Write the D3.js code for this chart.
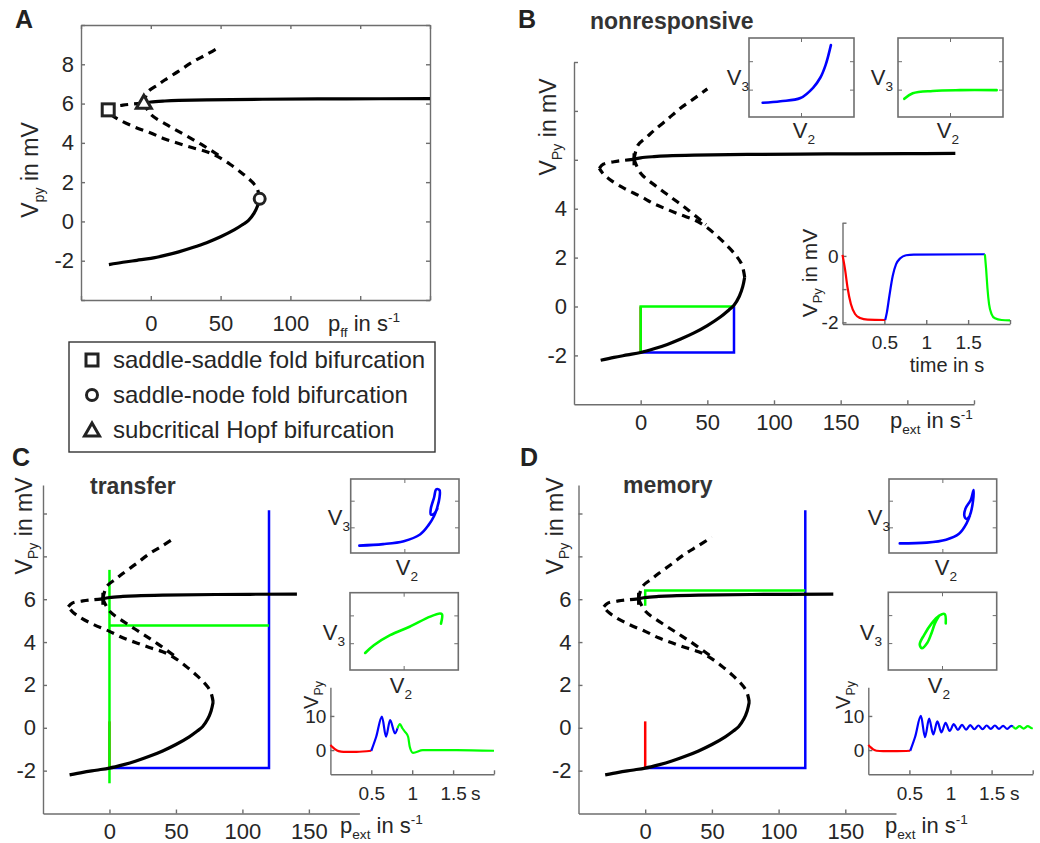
<!DOCTYPE html>
<html>
<head>
<meta charset="utf-8">
<title>Bifurcation diagrams</title>
<script src="https://d3js.org/d3.v7.min.js"></script>
<style>
  body { margin: 0; background: #fff; }
</style>
</head>
<body>
<div id="chart"></div>
<script>
// ---- bifurcation branches, [p in 1/s, V in mV] ----
const lowerBranch = [[-30,-2.2],[-20,-2.08],[-10,-1.98],[0,-1.88],[10,-1.73],[20,-1.55],[30,-1.33],
  [40,-1.08],[50,-0.78],[60,-0.42],[66,-0.15],[70,0.05],[74,0.42],[76.5,0.8],[78,1.2]];
const middleBranch = [[78,1.2],[76,1.7],[72,2.05],[66,2.42],[57,2.9],[48,3.3],[40,3.55],[30,3.75],
  [20,3.97],[10,4.2],[0,4.5],[-12,4.82],[-22,5.15],[-28,5.42],[-31,5.65]];
const upperUnstable = [[-31,5.65],[-28,5.82],[-20,5.92],[-12,5.98],[-5,6.02]];
const periodicMax = [[-5,6.02],[-2,6.6],[5,6.95],[10,7.2],[20,7.65],[30,8.12],[40,8.5],[50,8.9]];
const periodicMin = [[-5,6.02],[0,5.45],[12,4.9],[24,4.42],[36,3.93],[49,3.35]];
const upperStable = [[-5,6.02],[0,6.08],[10,6.13],[20,6.16],[40,6.19],[80,6.22],[140,6.24],[200,6.25],[236,6.26]];

const saddleSaddle = [-30.5, 5.68];
const hopf = [-5, 6.02];
const saddleNode = [78, 1.15];

const legendLabels = ["saddle-saddle fold bifurcation", "saddle-node fold bifurcation", "subcritical Hopf bifurcation"];

// ---- input projections on the bifurcation diagrams ----
const bRedP = [[0,0],[0,-1.88]];
const bBlueP = [[0,-1.88],[70,-1.88],[70,0]];
const bGreenP = [[70,0],[0,0],[0,-1.88]];
const cRedP = [[0,0.3],[0,-1.88]];
const cBlueP = [[0,-1.88],[120,-1.88],[120,10.15]];
const cGreenP = [[120,4.77],[0,4.77]];
const cGreenV = [[0,7.37],[0,-2.59]];
const dRedP = [[0,0.3],[0,-1.88]];
const dBlueP = [[0,-1.88],[120,-1.88],[120,10.15]];
const dGreenP = [[120,6.41],[0,6.41],[0,5.69]];

// ---- phase portraits (V2, V3), normalised units ----
const bPhaseBlue = [[0.13,0.18],[0.3,0.2],[0.49,0.24],[0.61,0.37],[0.68,0.5],[0.73,0.66],[0.78,0.91]];
const bPhaseGreen = [[0.06,0.23],[0.14,0.3],[0.33,0.33],[0.59,0.34],[0.94,0.34]];
const cPhaseBlue = [[0.08,0.1],[0.3,0.12],[0.49,0.16],[0.64,0.25],[0.72,0.38],[0.77,0.5],[0.8,0.62],
  [0.82,0.75],[0.82,0.85],[0.79,0.86],[0.77,0.75],[0.74,0.6],[0.74,0.52],[0.77,0.53],[0.8,0.6]];
const cPhaseGreen = [[0.14,0.22],[0.22,0.32],[0.37,0.45],[0.55,0.56],[0.74,0.69],[0.83,0.73],[0.85,0.72],[0.84,0.6]];
const dPhaseBlue = [[0.1,0.13],[0.35,0.14],[0.53,0.18],[0.65,0.26],[0.72,0.4],[0.76,0.55],[0.78,0.7],
  [0.785,0.85],[0.76,0.72],[0.71,0.6],[0.7,0.5],[0.72,0.46],[0.75,0.5]];
const dPhaseGreen = [[0.53,0.6],[0.52,0.72],[0.47,0.7],[0.4,0.6],[0.33,0.45],[0.29,0.33],[0.31,0.28],
  [0.36,0.35],[0.4,0.48],[0.43,0.6],[0.47,0.7]];

// ---- time courses, [t in s, V_Py in mV] ----
const bRedT = [[0,0.03],[0.03,-0.4],[0.06,-0.95],[0.1,-1.45],[0.15,-1.75],[0.21,-1.87],[0.3,-1.92],[0.51,-1.93]];
const bBlueT = [[0.51,-1.93],[0.53,-1.7],[0.56,-1.2],[0.6,-0.6],[0.64,-0.25],[0.69,-0.07],[0.76,0.02],[0.85,0.04],[1.7,0.05]];
const bGreenT = [[1.7,0.05],[1.715,-0.4],[1.73,-0.95],[1.75,-1.45],[1.78,-1.75],[1.82,-1.88],[1.9,-1.93],[2.0,-1.94]];
const cRedT = [[0,1.5],[0.03,0.8],[0.06,0.2],[0.1,-0.3],[0.16,-0.5],[0.32,-0.5],[0.5,-0.2]];
const cBlueT = [[0.5,-0.2],[0.56,3.9],[0.63,9.8],[0.68,3.9],[0.73,8.8],[0.79,4.9],[0.82,6.4]];
const cGreenT = [[0.82,6.4],[0.85,7.6],[0.88,6.4],[0.91,5.4],[0.95,3.9],[0.97,1.0],[1.01,-0.8],[1.13,0],[1.54,0],[2.0,-0.2]];
const dRedT = [[0,1.5],[0.03,0.8],[0.06,0.2],[0.1,-0.2],[0.18,-0.3],[0.35,-0.3],[0.51,-0.2]];
const dBlueT = [[0.51,-0.2],[0.57,3.9],[0.64,10],[0.69,3.8],[0.74,9.2],[0.79,4.6],[0.84,8.4],[0.89,5.2],
  [0.94,8.0],[0.99,5.6],[1.04,7.6],[1.09,5.9],[1.14,7.4],[1.19,6.0],[1.24,7.3],[1.29,6.1],[1.34,7.2],
  [1.39,6.1],[1.44,7.2],[1.49,6.2],[1.54,7.2],[1.59,6.2],[1.64,7.1],[1.69,6.2],[1.74,7.1],[1.76,6.9]];
const dGreenT = [[1.76,6.9],[1.79,6.3],[1.84,7.0],[1.89,6.3],[1.94,7.0],[1.99,6.4],[2.0,6.45]];

const FONT = "'Liberation Sans', Arial, Helvetica, sans-serif";
const INK = "#262626";
const AXC = "#6e6e6e";
const RED = "#ff0000", BLUE = "#0000ff", GREEN = "#00ff00";

const svg = d3.select("#chart").append("svg")
    .attr("width", 1040).attr("height", 843)
    .style("background", "#fff")
    .attr("font-family", FONT);

function styleAxis(sel, fs) {
    sel.attr("font-family", FONT).attr("font-size", fs).attr("color", INK);
    sel.selectAll("path.domain, line").attr("stroke", AXC).attr("stroke-width", 1.4);
}

const labelOnly = arr => d => arr.includes(d) ? String(d) : "";
const noLabel = () => "";

// text with sub / superscript parts: parts = [[text, "n"|"sub"|"sup"], ...]
function richText(g, x, y, parts, fs, opts) {
    opts = opts || {};
    const t = g.append("text").attr("font-size", fs).attr("fill", INK)
        .attr("text-anchor", opts.anchor || "start");
    if (opts.rotate) t.attr("transform", `translate(${x},${y}) rotate(-90)`);
    else t.attr("x", x).attr("y", y);
    let shift = 0;
    parts.forEach(p => {
        const target = p[1] === "sub" ? fs * 0.26 : p[1] === "sup" ? -fs * 0.42 : 0;
        t.append("tspan").text(p[0])
            .attr("dy", target - shift)
            .attr("font-size", p[1] === "n" ? fs : fs * 0.62);
        shift = target;
    });
    return t;
}

function mainPanel(o) {
    const x = d3.scaleLinear().domain(o.xDomain).range(o.xRange);
    const y = d3.scaleLinear().domain(o.yDomain).range(o.yRange);
    const g = svg.append("g");

    g.append("g").attr("transform", `translate(0,${o.yRange[0]})`)
        .call(d3.axisBottom(x).tickValues(o.xTicks).tickFormat(labelOnly(o.xLabels))
            .tickSizeInner(-4).tickSizeOuter(0).tickPadding(o.xPad))
        .call(styleAxis, 22);
    g.append("g").attr("transform", `translate(${o.xRange[0]},0)`)
        .call(d3.axisLeft(y).tickValues(o.yTicks).tickFormat(labelOnly(o.yLabels))
            .tickSizeInner(-4).tickSizeOuter(0).tickPadding(7))
        .call(styleAxis, 22);
    if (o.box) {
        g.append("g").attr("transform", `translate(0,${o.yRange[1]})`)
            .call(d3.axisTop(x).tickValues(o.xTicks).tickFormat(noLabel).tickSizeInner(-4).tickSizeOuter(0))
            .call(styleAxis, 22);
        g.append("g").attr("transform", `translate(${o.xRange[1]},0)`)
            .call(d3.axisRight(y).tickValues(o.yTicks).tickFormat(noLabel).tickSizeInner(-4).tickSizeOuter(0))
            .call(styleAxis, 22);
    }

    // input projections (straight segments)
    const seg = d3.line().x(d => x(d[0])).y(d => y(d[1]));
    (o.inputs || []).forEach(p => {
        g.append("path").attr("d", seg(p.data)).attr("fill", "none")
            .attr("stroke", p.color).attr("stroke-width", 2.5);
    });

    // branches
    const curve = d3.line().x(d => x(d[0])).y(d => y(d[1])).curve(d3.curveCatmullRom.alpha(0.5));
    const upper = upperStable.filter(d => d[0] <= o.upperEnd);
    upper.push([o.upperEnd, upperStable[upper.length - 1][1]]);
    g.append("path").attr("d", curve(lowerBranch)).attr("fill", "none")
        .attr("stroke", "#000").attr("stroke-width", 3.2);
    g.append("path").attr("d", curve(upper)).attr("fill", "none")
        .attr("stroke", "#000").attr("stroke-width", 3.2);
    [middleBranch, upperUnstable, periodicMax, periodicMin].forEach(b => {
        g.append("path").attr("d", curve(b)).attr("fill", "none")
            .attr("stroke", "#000").attr("stroke-width", 3.2)
            .attr("stroke-dasharray", "8,6");
    });

    if (o.symbols) {
        drawSquare(g, x(saddleSaddle[0]), y(saddleSaddle[1]));
        drawCircle(g, x(saddleNode[0]), y(saddleNode[1]));
        drawTriangle(g, x(hopf[0]), y(hopf[1]));
    } else {
        g.append("line")
            .attr("x1", x(hopf[0])).attr("x2", x(hopf[0]))
            .attr("y1", y(hopf[1]) - 6).attr("y2", y(hopf[1]) + 6)
            .attr("stroke", "#000").attr("stroke-width", 3);
    }
    return { x, y, g };
}

function drawSquare(g, cx, cy) {
    g.append("rect").attr("x", cx - 6).attr("y", cy - 6).attr("width", 12).attr("height", 12)
        .attr("fill", "#fff").attr("stroke", "#222").attr("stroke-width", 3);
}
function drawCircle(g, cx, cy) {
    g.append("circle").attr("cx", cx).attr("cy", cy).attr("r", 5.5)
        .attr("fill", "#fff").attr("stroke", "#222").attr("stroke-width", 3);
}
function drawTriangle(g, cx, cy) {
    g.append("path").attr("d", `M${cx},${cy - 8}L${cx + 7.5},${cy + 5}L${cx - 7.5},${cy + 5}Z`)
        .attr("fill", "#fff").attr("stroke", "#222").attr("stroke-width", 3);
}

function phaseInset(o) {
    const x = d3.scaleLinear().domain([0, 1]).range([o.x0, o.x1]);
    const y = d3.scaleLinear().domain([0, 1]).range([o.y1, o.y0]);
    const g = svg.append("g");
    g.append("rect").attr("x", o.x0).attr("y", o.y0)
        .attr("width", o.x1 - o.x0).attr("height", o.y1 - o.y0)
        .attr("fill", "#fff").attr("stroke", AXC).attr("stroke-width", 1.6);
    [0.5].forEach(u => {
        g.append("line").attr("x1", x(u)).attr("x2", x(u)).attr("y1", o.y1).attr("y2", o.y1 - 4).attr("stroke", AXC);
        g.append("line").attr("x1", x(u)).attr("x2", x(u)).attr("y1", o.y0).attr("y2", o.y0 + 4).attr("stroke", AXC);
    });
    [0.34, 0.7].forEach(v => {
        g.append("line").attr("x1", o.x0).attr("x2", o.x0 + 4).attr("y1", y(v)).attr("y2", y(v)).attr("stroke", AXC);
        g.append("line").attr("x1", o.x1).attr("x2", o.x1 - 4).attr("y1", y(v)).attr("y2", y(v)).attr("stroke", AXC);
    });
    g.append("path")
        .attr("d", d3.line().x(d => x(d[0])).y(d => y(d[1])).curve(d3.curveCatmullRom.alpha(0.5))(o.data))
        .attr("fill", "none").attr("stroke", o.color).attr("stroke-width", 2.6)
        .attr("stroke-linecap", "round").attr("stroke-linejoin", "round");
    richText(g, o.v3[0], o.v3[1], [["V", "n"], ["3", "sub"]], 22, { anchor: "end" });
    richText(g, o.v2[0], o.v2[1], [["V", "n"], ["2", "sub"]], 22, { anchor: "middle" });
}

function timeInset(o) {
    const x = d3.scaleLinear().domain([0, 2]).range(o.xRange);
    const y = d3.scaleLinear().domain(o.yDomain).range(o.yRange);
    const g = svg.append("g");
    g.append("g").attr("transform", `translate(0,${o.yRange[0]})`)
        .call(d3.axisBottom(x).tickValues([0.5, 1, 1.5, 2]).tickFormat(labelOnly([0.5, 1, 1.5]))
            .tickSizeInner(-4).tickSizeOuter(0).tickPadding(o.xPad))
        .call(styleAxis, 19);
    g.append("g").attr("transform", `translate(${o.xRange[0]},0)`)
        .call(d3.axisLeft(y).tickValues(o.yTicks).tickFormat(labelOnly(o.yLabels))
            .tickSizeInner(-4).tickSizeOuter(0).tickPadding(4))
        .call(styleAxis, 19);
    const ln = d3.line().x(d => x(d[0])).y(d => y(d[1])).curve(d3.curveMonotoneX);
    o.series.forEach(s => {
        g.append("path").attr("d", ln(s.data)).attr("fill", "none")
            .attr("stroke", s.color).attr("stroke-width", 2.2);
    });
    return g;
}

// ================= panel A =================
mainPanel({
    xDomain: [-50, 200], xRange: [81, 430],
    yDomain: [-4, 10], yRange: [300, 25],
    xTicks: [-50, 0, 50, 100, 150, 200], xLabels: [0, 50, 100], xPad: 15,
    yTicks: [-4, -2, 0, 2, 4, 6, 8, 10], yLabels: [-2, 0, 2, 4, 6, 8],
    box: true, symbols: true, upperEnd: 200
});
richText(svg, 38, 170, [["V", "n"], ["py", "sub"], [" in mV", "n"]], 23, { anchor: "middle", rotate: true });
richText(svg, 328, 331, [["p", "n"], ["ff", "sub"], [" in s", "n"], ["-1", "sup"]], 22);

// legend
const leg = svg.append("g");
leg.append("rect").attr("x", 69).attr("y", 342).attr("width", 366).attr("height", 110)
    .attr("fill", "#fff").attr("stroke", "#333").attr("stroke-width", 1.4);
const legendDraw = [drawSquare, drawCircle, drawTriangle];
legendLabels.forEach((t, i) => {
    const cy = 360 + i * 35;
    legendDraw[i](leg, 92, cy + (i === 2 ? 1 : 0));
    leg.append("text").attr("x", 113).attr("y", cy + 8).attr("font-size", 24).attr("fill", INK).text(t);
});

// ================= panel B =================
mainPanel({
    xDomain: [-50, 250], xRange: [574, 974],
    yDomain: [-4, 10], yRange: [404.3, 62],
    xTicks: [0, 50, 100, 150, 200, 250], xLabels: [0, 50, 100, 150], xPad: 10,
    yTicks: [-2, 0, 2, 4, 6, 8, 10], yLabels: [-2, 0, 2, 4],
    box: false, symbols: false, upperEnd: 236,
    inputs: [{ data: bRedP, color: RED }, { data: bBlueP, color: BLUE }, { data: bGreenP, color: GREEN }]
});
richText(svg, 556, 127, [["V", "n"], ["Py", "sub"], [" in mV", "n"]], 23, { anchor: "middle", rotate: true });
richText(svg, 890, 428, [["p", "n"], ["ext", "sub"], [" in s", "n"], ["-1", "sup"]], 22);
phaseInset({ x0: 749, x1: 854, y0: 38, y1: 117, data: bPhaseBlue, color: BLUE, v3: [749, 85], v2: [804, 138] });
phaseInset({ x0: 898, x1: 1003, y0: 38, y1: 117, data: bPhaseGreen, color: GREEN, v3: [893, 85], v2: [948, 138] });
timeInset({
    xRange: [842.5, 1010], yDomain: [-2.05, 1.0], yRange: [324, 222.7],
    yTicks: [-2, -1, 0, 1], yLabels: [-2, 0], xPad: 12,
    series: [{ data: bRedT, color: RED }, { data: bBlueT, color: BLUE }, { data: bGreenT, color: GREEN }]
});
richText(svg, 817, 273, [["V", "n"], ["Py", "sub"], [" in mV", "n"]], 21, { anchor: "middle", rotate: true });
svg.append("text").attr("x", 947).attr("y", 372).attr("text-anchor", "middle")
    .attr("font-size", 20).attr("fill", INK).text("time in s");

// ================= panel C =================
mainPanel({
    xDomain: [-50, 188], xRange: [43, 359.4],
    yDomain: [-4, 11.33], yRange: [813.5, 485],
    xTicks: [0, 50, 100, 150], xLabels: [0, 50, 100, 150], xPad: 10,
    yTicks: [-2, 0, 2, 4, 6, 8, 10], yLabels: [-2, 0, 2, 4, 6],
    box: false, symbols: false, upperEnd: 141,
    inputs: [{ data: cRedP, color: RED }, { data: cBlueP, color: BLUE },
             { data: cGreenV, color: GREEN }, { data: cGreenP, color: GREEN }]
});
richText(svg, 32, 526, [["V", "n"], ["Py", "sub"], [" in mV", "n"]], 23, { anchor: "middle", rotate: true });
richText(svg, 340, 833, [["p", "n"], ["ext", "sub"], [" in s", "n"], ["-1", "sup"]], 22);
phaseInset({ x0: 350.7, x1: 459, y0: 479, y1: 553, data: cPhaseBlue, color: BLUE, v3: [350, 525], v2: [407, 575] });
phaseInset({ x0: 350, x1: 458.3, y0: 592.7, y1: 670, data: cPhaseGreen, color: GREEN, v3: [345, 640], v2: [401, 693] });
timeInset({
    xRange: [330.4, 494], yDomain: [-7.1, 18.4], yRange: [774.3, 687.3],
    yTicks: [0, 10], yLabels: [0, 10], xPad: 12,
    series: [{ data: cRedT, color: RED }, { data: cBlueT, color: BLUE }, { data: cGreenT, color: GREEN }]
});
richText(svg, 318, 695, [["V", "n"], ["Py", "sub"]], 20, { anchor: "middle", rotate: true });
svg.append("text").attr("x", 471).attr("y", 800).attr("font-size", 19).attr("fill", INK).text("s");

// ================= panel D =================
mainPanel({
    xDomain: [-50, 188], xRange: [578.5, 896],
    yDomain: [-4, 11.33], yRange: [813.5, 485],
    xTicks: [0, 50, 100, 150], xLabels: [0, 50, 100, 150], xPad: 10,
    yTicks: [-2, 0, 2, 4, 6, 8, 10], yLabels: [-2, 0, 2, 4, 6],
    box: false, symbols: false, upperEnd: 141,
    inputs: [{ data: dRedP, color: RED }, { data: dBlueP, color: BLUE }, { data: dGreenP, color: GREEN }]
});
richText(svg, 563, 526, [["V", "n"], ["Py", "sub"], [" in mV", "n"]], 23, { anchor: "middle", rotate: true });
richText(svg, 885, 833, [["p", "n"], ["ext", "sub"], [" in s", "n"], ["-1", "sup"]], 22);
phaseInset({ x0: 889, x1: 996.7, y0: 479, y1: 553, data: dPhaseBlue, color: BLUE, v3: [890, 525], v2: [946, 575] });
phaseInset({ x0: 888.3, x1: 996.7, y0: 592.3, y1: 670, data: dPhaseGreen, color: GREEN, v3: [882, 640], v2: [939, 693] });
timeInset({
    xRange: [868.3, 1032.7], yDomain: [-7.1, 18.4], yRange: [774.3, 687.3],
    yTicks: [0, 10], yLabels: [0, 10], xPad: 12,
    series: [{ data: dRedT, color: RED }, { data: dBlueT, color: BLUE }, { data: dGreenT, color: GREEN }]
});
richText(svg, 850, 695, [["V", "n"], ["Py", "sub"]], 20, { anchor: "middle", rotate: true });
svg.append("text").attr("x", 1010).attr("y", 800).attr("font-size", 19).attr("fill", INK).text("s");

// ================= titles and panel letters =================
const titles = [["nonresponsive", 590, 29], ["transfer", 90, 494], ["memory", 623, 493]];
titles.forEach(t => svg.append("text").attr("x", t[1]).attr("y", t[2])
    .attr("font-size", 23).attr("font-weight", "bold").attr("fill", "#333").text(t[0]));
const letters = [["A", 15, 28], ["B", 518, 28], ["C", 12, 466], ["D", 520, 466]];
letters.forEach(t => svg.append("text").attr("x", t[1]).attr("y", t[2])
    .attr("font-size", 25).attr("font-weight", "bold").attr("fill", "#222").text(t[0]));
</script>
</body>
</html>
